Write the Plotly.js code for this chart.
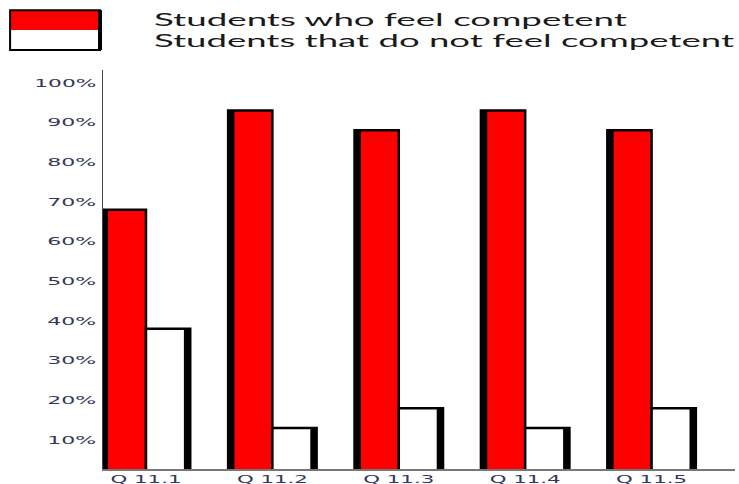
<!DOCTYPE html>
<html><head><meta charset="utf-8">
<script src="https://cdn.plot.ly/plotly-3.0.1.min.js"></script>
<style>html,body{margin:0;padding:0;background:#fff}</style>
</head><body>
<div id="chart" style="width:739px;height:484px"></div>
<script>
const categories = ['Q 11.1', 'Q 11.2', 'Q 11.3', 'Q 11.4', 'Q 11.5'];
const competent = [68, 93, 88, 93, 88];
const notCompetent = [38, 13, 18, 13, 18];
const seriesNames = ['Students who feel competent', 'Students that do not feel competent'];
const yTickValues = [10, 20, 30, 40, 50, 60, 70, 80, 90, 100];
const yTickLabels = ['10%', '20%', '30%', '40%', '50%', '60%', '70%', '80%', '90%', '100%'];

const RED = '#ff0000';

const traces = [
  {type: 'bar', x: categories, y: competent, name: seriesNames[0], offset: -0.35, width: 0.35,
   marker: {color: RED, line: {color: '#000', width: 2.5}}},
  {type: 'bar', x: categories, y: notCompetent, name: seriesNames[1], offset: 0, width: 0.35,
   marker: {color: '#ffffff', line: {color: '#000', width: 2.5}}},
  // darker edge strips (shadow effect) drawn from the same series
  {type: 'bar', x: categories, y: competent, offset: -0.35, width: 0.05, name: 'edge1',
   marker: {color: '#000', line: {width: 0}}},
  {type: 'bar', x: categories, y: notCompetent, offset: 0.30, width: 0.05, name: 'edge2',
   marker: {color: '#000', line: {width: 0}}}
];

const layout = {
  width: 739, height: 484,
  margin: {l: 103, r: 4, t: 70, b: 15},
  barmode: 'overlay',
  showlegend: false,
  paper_bgcolor: '#fff', plot_bgcolor: '#fff',
  xaxis: {type: 'category', range: [-0.34, 4.66], showline: true, linecolor: '#777', linewidth: 1.5,
    ticks: '', showgrid: false, zeroline: false, automargin: false, ticklabelstandoff: 0,
    tickfont: {family: 'DejaVu Sans', size: 10, color: '#33385a'}},
  yaxis: {range: [2.7, 103.2], tickmode: 'array', tickvals: yTickValues, ticktext: yTickLabels,
    showline: true, linecolor: '#444', linewidth: 1.5, ticks: '', showgrid: false, zeroline: false,
    automargin: false, ticklabelstandoff: 3,
    tickfont: {family: 'DejaVu Sans', size: 11, color: '#33385a'}},
  shapes: [
    {type: 'rect', xref: 'paper', yref: 'paper', x0: -0.147, x1: -0.0047, y0: 1.100, y1: 1.150,
     fillcolor: RED, line: {width: 0}},
    {type: 'rect', xref: 'paper', yref: 'paper', x0: -0.147, x1: -0.0047, y0: 1.050, y1: 1.100,
     fillcolor: '#fff', line: {width: 0}},
    {type: 'rect', xref: 'paper', yref: 'paper', x0: -0.147, x1: -0.0047, y0: 1.050, y1: 1.150,
     fillcolor: 'rgba(0,0,0,0)', line: {color: '#000', width: 2}},
    {type: 'line', xref: 'paper', yref: 'paper', x0: -0.0047, x1: -0.0047, y0: 1.050, y1: 1.150,
     line: {color: '#000', width: 4}}
  ],
  annotations: [
    {xref: 'paper', yref: 'paper', x: 0.078, y: 1.128, xanchor: 'left', yanchor: 'middle', align: 'left',
     showarrow: false, text: seriesNames[0], font: {family: 'Lato', size: 18, color: '#1a1a1a'}},
    {xref: 'paper', yref: 'paper', x: 0.078, y: 1.075, xanchor: 'left', yanchor: 'middle', align: 'left',
     showarrow: false, text: seriesNames[1], font: {family: 'Lato', size: 18, color: '#1a1a1a'}}
  ]
};

function stretchTo(t, W) {
  const anchor = t.getAttribute('text-anchor') || window.getComputedStyle(t).textAnchor || 'start';
  let x = parseFloat(t.getAttribute('x')) || 0;
  if (anchor === 'end') x -= W;
  else if (anchor === 'middle') x -= W / 2;
  t.setAttribute('x', x.toFixed(1));
  t.setAttribute('text-anchor', 'start');
  t.style.textAnchor = 'start';
  t.setAttribute('textLength', W.toFixed(1));
  t.setAttribute('lengthAdjust', 'spacingAndGlyphs');
}

Plotly.newPlot('chart', traces, layout, {staticPlot: true, displayModeBar: false}).then(function (gd) {
  gd.querySelectorAll('.ytick text').forEach(function (t) {
    stretchTo(t, t.textContent.length >= 4 ? 62 : 49);
  });
  gd.querySelectorAll('.xtick text').forEach(function (t) { stretchTo(t, 71); });
  const targets = [473, 580];
  gd.querySelectorAll('.annotation-text').forEach(function (t, i) {
    t.setAttribute('textLength', targets[i]);
    t.setAttribute('lengthAdjust', 'spacingAndGlyphs');
  });
});
</script>
</body></html>
